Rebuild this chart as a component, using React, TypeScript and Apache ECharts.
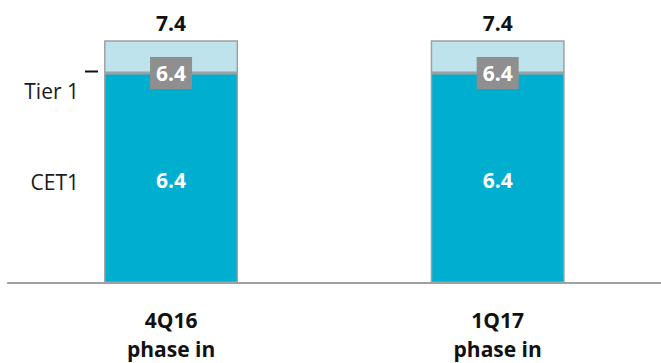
import React, { useEffect, useRef } from "react";
import * as echarts from "echarts";

const categories = ["4Q16", "1Q17"];
const categorySub = "phase in";
const cet1 = [6.4, 6.4];
const tier1 = [7.4, 7.4];
const segmentNames = ["Tier 1", "CET1"];

const FONT = "'Open Sans', sans-serif";
const DARK = "#00AECF";
const LIGHT = "#BFE3EC";
const BORDER = "#A0A0A0";

export default function App() {
  const ref = useRef<HTMLDivElement>(null);
  useEffect(() => {
    if (!ref.current) return;
    const chart = echarts.init(ref.current, null, { renderer: "svg" });
    const tierAdd = tier1.map((v, i) => +(v - cet1[i]).toFixed(2));
    chart.setOption({
      animation: false,
      textStyle: { fontFamily: FONT },
      grid: { left: 7.75, width: 661, top: 20.5, bottom: 78.5, containLabel: false },
      xAxis: {
        type: "category",
        data: categories,
        axisLine: { show: true, lineStyle: { color: BORDER, width: 2 } },
        axisTick: { show: false },
        axisLabel: {
          margin: 22,
          formatter: (v: string) => `${v}\n${categorySub}`,
          fontFamily: FONT,
          fontSize: 21,
          fontWeight: "bold",
          color: "#111",
          lineHeight: 29,
        },
      },
      yAxis: { type: "value", min: 0, max: 8, show: false, splitLine: { show: false } },
      series: [
        {
          name: segmentNames[1],
          type: "bar",
          stack: "total",
          barWidth: 134,
          barGap: "-100%",
          data: cet1,
          itemStyle: { color: DARK, borderColor: BORDER, borderWidth: 1.5 },
          label: {
            show: true,
            position: "inside",
            offset: [0, 2],
            color: "#fff",
            fontFamily: FONT,
            fontSize: 21,
            fontWeight: "bold",
            formatter: (p: any) => cet1[p.dataIndex].toFixed(1),
          },
          silent: true,
        },
        {
          name: segmentNames[0],
          type: "bar",
          stack: "total",
          barWidth: 134,
          barGap: "-100%",
          data: tierAdd,
          itemStyle: { color: LIGHT, borderColor: BORDER, borderWidth: 1.5 },
          silent: true,
        },
        {
          name: "total",
          type: "bar",
          barWidth: 134,
          barGap: "-100%",
          data: tier1,
          itemStyle: { color: "rgba(0,0,0,0)", borderWidth: 0 },
          label: {
            show: true,
            position: "top",
            distance: 7,
            color: "#111",
            fontFamily: FONT,
            fontSize: 21,
            fontWeight: "bold",
            formatter: (p: any) => tier1[p.dataIndex].toFixed(1),
          },
          silent: true,
        },
        {
          name: "cet1box",
          type: "bar",
          barWidth: 134,
          barGap: "-100%",
          data: cet1,
          itemStyle: { color: "rgba(0,0,0,0)", borderWidth: 0 },
          label: {
            show: true,
            position: ["50%", 0],
            align: "center",
            verticalAlign: "middle",
            backgroundColor: "#8F8F8F",
            padding: [6, 6, 5, 6],
            color: "#fff",
            fontFamily: FONT,
            fontSize: 21,
            fontWeight: "bold",
            formatter: (p: any) => cet1[p.dataIndex].toFixed(1),
          },
          silent: true,
        },
      ],
      graphic: [
        {
          type: "text",
          x: 79,
          y: 91,
          style: {
            text: segmentNames[0],
            align: "right",
            verticalAlign: "middle",
            fontFamily: FONT,
            fontSize: 21,
            fill: "#1a1a1a",
          },
        },
        {
          type: "text",
          x: 79,
          y: 182,
          style: {
            text: segmentNames[1],
            align: "right",
            verticalAlign: "middle",
            fontFamily: FONT,
            fontSize: 21,
            fill: "#1a1a1a",
          },
        },
        {
          type: "line",
          shape: { x1: 85, y1: 71.5, x2: 98, y2: 71.5 },
          style: { stroke: "#111", lineWidth: 2 },
        },
      ],
    });
    return () => chart.dispose();
  }, []);
  return (
    <div
      ref={ref}
      style={{ position: "absolute", left: 0, top: 0, width: 661, height: 363, background: "#fff" }}
    />
  );
}
